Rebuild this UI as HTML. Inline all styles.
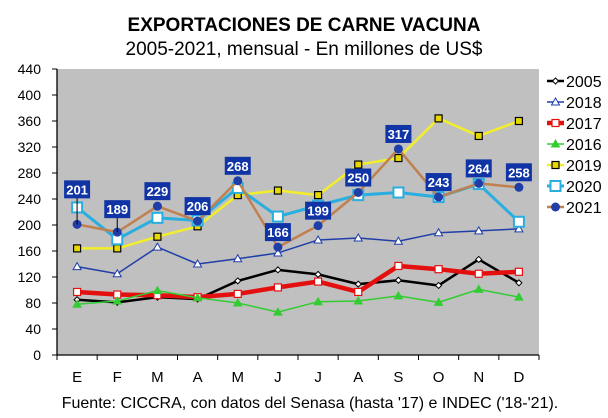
<!DOCTYPE html>
<html><head><meta charset="utf-8"><style>
html,body{margin:0;padding:0;background:#fff;width:608px;height:418px;overflow:hidden}
svg{display:block;font-family:"Liberation Sans",Arial,sans-serif}
</style></head><body>
<svg id="s" width="608" height="418" xmlns="http://www.w3.org/2000/svg">
<text x="304" y="31" text-anchor="middle" font-size="19" font-weight="bold">EXPORTACIONES DE CARNE VACUNA</text>
<text x="304" y="55" text-anchor="middle" font-size="19">2005-2021, mensual - En millones de US$</text>
<rect x="57" y="69" width="482" height="286" fill="#c0c0c0"/>
<text x="310" y="408" text-anchor="middle" font-size="16">Fuente: CICCRA, con datos del Senasa (hasta '17) e INDEC ('18-'21).</text>
<g id="g"></g>
</svg>
<script>
var g=document.getElementById('g'),h='';
var X0=57,W=482,Y0=355,K=286/440;
function px(i){return X0+W/12*(i+0.5)}
function py(v){return Y0-v*K}
h+='<line x1="57" y1="69" x2="57" y2="355" stroke="#000" stroke-width="1.3"/>';
h+='<line x1="57" y1="355" x2="539" y2="355" stroke="#000" stroke-width="1.3"/>';
for(var v=0;v<=440;v+=40){var y=py(v);h+='<line x1="52" y1="'+y+'" x2="57" y2="'+y+'" stroke="#000"/>';h+='<text x="41" y="'+(y+5)+'" text-anchor="end" font-size="14">'+v+'</text>';}
var m=['E','F','M','A','M','J','J','A','S','O','N','D'];
for(var i=0;i<=12;i++){var x=X0+W/12*i;h+='<line x1="'+x+'" y1="355" x2="'+x+'" y2="360" stroke="#000"/>';}
for(i=0;i<12;i++)h+='<text x="'+px(i)+'" y="382" text-anchor="middle" font-size="15">'+m[i]+'</text>';
var S=[
['2005','#000',2.5,'dia','#fff','#000',[85,81,89,86,114,131,124,109,115,107,147,111]],
['2018','#1f3ea8',1.5,'tri','#fff','#1f3ea8',[136,125,166,140,148,157,177,180,175,188,191,194]],
['2017','#e41010',4.5,'sq','#fff','#e41010',[97,93,92,89,94,104,113,97,137,132,125,128]],
['2016','#33cc33',1.5,'tri','#33cc33','#33cc33',[78,83,99,88,80,66,82,83,91,81,101,89]],
['2019','#f2ee2a',2.5,'sq','#e8d800','#000',[164,164,182,198,246,253,246,293,303,364,337,360]],
['2020','#2aaee0',3,'bsq','#fff','#2aaee0',[227,178,211,207,257,213,230,246,250,243,263,205]],
['2021','#c08050',2.5,'dot','#1f3ea8','#1f3ea8',[201,189,229,206,268,166,199,250,317,243,264,258]]
];
function mk(t,x,y,f,s){
 if(t=='dia')return '<path d="M'+x+' '+(y-3)+'L'+(x+3)+' '+y+'L'+x+' '+(y+3)+'L'+(x-3)+' '+y+'Z" fill="'+f+'" stroke="'+s+'"/>';
 if(t=='tri')return '<path d="M'+x+' '+(y-4)+'L'+(x+4)+' '+(y+3)+'L'+(x-4)+' '+(y+3)+'Z" fill="'+f+'" stroke="'+s+'"/>';
 if(t=='sq')return '<rect x="'+(x-3.5)+'" y="'+(y-3.5)+'" width="7" height="7" fill="'+f+'" stroke="'+s+'" stroke-width="1.2"/>';
 if(t=='bsq')return '<rect x="'+(x-5)+'" y="'+(y-5)+'" width="10" height="10" fill="'+f+'" stroke="'+s+'" stroke-width="2"/>';
 return '<circle cx="'+x+'" cy="'+y+'" r="4.5" fill="'+f+'"/>';
}
S.forEach(function(s,k){
 var p=s[6].map(function(v,i){return px(i)+','+py(v)}).join(' ');
 h+='<polyline points="'+p+'" fill="none" stroke="'+s[1]+'" stroke-width="'+s[2]+'" stroke-linejoin="round"/>';
 s[6].forEach(function(v,i){h+=mk(s[3],px(i),py(v),s[4],s[5])});
 var ly=81+k*21;
 h+='<line x1="547" y1="'+ly+'" x2="564" y2="'+ly+'" stroke="'+s[1]+'" stroke-width="'+s[2]+'"/>'+mk(s[3],555.5,ly,s[4],s[5]);
 h+='<text x="566" y="'+(ly+6)+'" font-size="16">'+s[0]+'</text>';
});
var d=S[6][6];
d.forEach(function(v,i){
 var x=px(i),y=py(v),off=15;
 if(i==0)off=35; if(i==1)off=23;
 var cy=y-off;
 if(off>20)h+='<line x1="'+x+'" y1="'+cy+'" x2="'+x+'" y2="'+y+'" stroke="#000"/>';
 h+='<rect x="'+(x-13)+'" y="'+(cy-9)+'" width="26" height="18" fill="#1034a6"/>';
 h+='<text x="'+x+'" y="'+(cy+5)+'" text-anchor="middle" font-size="13" font-weight="bold" fill="#fff">'+v+'</text>';
});
g.innerHTML=h;
</script>
</body></html>
